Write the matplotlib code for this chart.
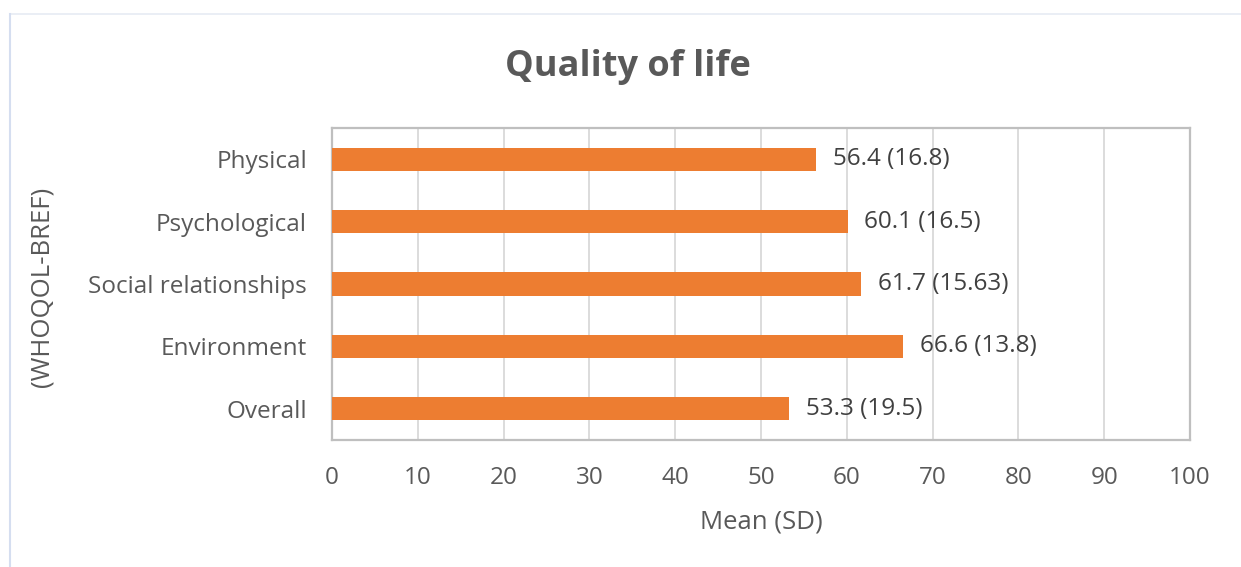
import matplotlib.pyplot as plt
from matplotlib.lines import Line2D

categories = ["Physical", "Psychological", "Social relationships", "Environment", "Overall"]
means = [56.4, 60.1, 61.7, 66.6, 53.3]
sds = ["16.8", "16.5", "15.63", "13.8", "19.5"]
xticks = [0, 10, 20, 30, 40, 50, 60, 70, 80, 90, 100]

plt.rcParams['font.family'] = ['Open Sans', 'DejaVu Sans']
grey = "#595959"

fig = plt.figure(figsize=(12.41, 5.67), dpi=100)
W, H = 1241, 567
ax = fig.add_axes([332 / W, 1 - 440 / H, (1190 - 332) / W, (440 - 128) / H])

ypos = list(range(len(categories)))[::-1]
ax.barh(ypos, means, height=0.37, color="#ED7D31", zorder=3)
for y, m, s in zip(ypos, means, sds):
    ax.annotate(f"{m} ({s})", (m, y), xytext=(12, 0), textcoords="offset points",
                va="center", ha="left", fontsize=17.5, color="#404040", zorder=4)

ax.set_xlim(0, 100)
ax.set_ylim(-0.5, len(categories) - 0.5)
ax.set_xticks(xticks)
ax.set_yticks(ypos)
ax.set_yticklabels(categories)
ax.tick_params(axis="both", length=0, labelsize=17.5, labelcolor=grey)
ax.tick_params(axis="x", pad=19)
ax.tick_params(axis="y", pad=18)
ax.grid(axis="x", color="#d9d9d9", linewidth=1.3, zorder=0)
for sp in ax.spines.values():
    sp.set_color("#bfbfbf")
    sp.set_linewidth(1.6)

ax.set_xlabel("Mean (SD)", fontsize=18.5, color=grey, labelpad=14)
fig.text(42 / W, 1 - 287 / H, "(WHOQOL-BREF)", rotation=90, ha="center", va="center",
         fontsize=18.5, color=grey)
fig.text(628 / W, 1 - 67 / H, "Quality of life", ha="center", va="center",
         fontsize=26, fontweight="bold", color=grey)

# outer chart frame
fig.add_artist(Line2D([10 / W, 1], [1 - 14 / H, 1 - 14 / H], transform=fig.transFigure,
                      color="#e6ebf4", linewidth=1.2))
fig.add_artist(Line2D([10 / W, 10 / W], [0, 1 - 14 / H], transform=fig.transFigure,
                      color="#d5def0", linewidth=1.5))

fig.savefig("out.png", dpi=100)
